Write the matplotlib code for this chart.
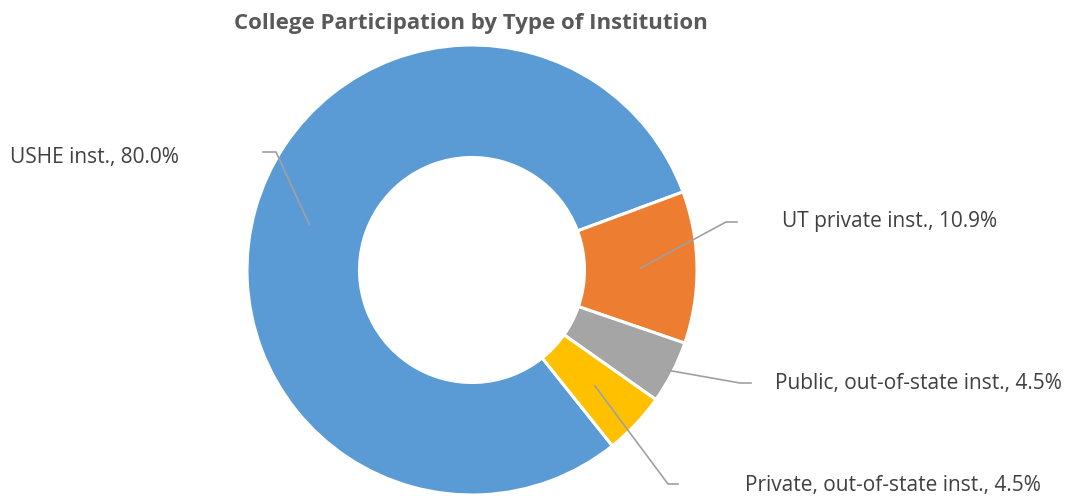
import numpy as np
import matplotlib
matplotlib.use("Agg")
import matplotlib.pyplot as plt

# dados do gráfico
categorias = ["USHE inst.", "UT private inst.", "Public, out-of-state inst.", "Private, out-of-state inst."]
percentuais = [80.0, 10.9, 4.5, 4.5]
cores = ["#5B9BD5", "#ED7D31", "#A5A5A5", "#FFC000"]
titulo = "College Participation by Type of Institution"

# centro e raio do anel em pixels (figura 1086x496)
cx, cy, raio_px = 472, 270, 225
W, H = 1086, 496

def px2d(x, y):
    return (x - cx) / raio_px, (cy - y) / raio_px

fig = plt.figure(figsize=(W / 100, H / 100), dpi=100)
ax = fig.add_axes([0, 0, 1, 1])

wedges, _ = ax.pie(percentuais, colors=cores, startangle=-51.4, counterclock=False,
                   radius=1.0, wedgeprops=dict(width=0.5, edgecolor="white", linewidth=2.2))

# limites depois do pie (ele redefine xlim/ylim)
ax.set_xlim((0 - cx) / raio_px, (W - cx) / raio_px)
ax.set_ylim((cy - H) / raio_px, cy / raio_px)
ax.set_aspect("equal")
ax.axis("off")

# posição dos rótulos (cotovelo, fim da linha, texto) em pixels
layout = [
    dict(r=0.75, cotovelo=(276, 152), fim=(263, 152), texto=(10, 157)),
    dict(r=0.75, cotovelo=(726, 222), fim=(737, 222), texto=(782, 222)),
    dict(r=0.98, cotovelo=(740, 383), fim=(751, 383), texto=(775, 383)),
    dict(r=0.75, cotovelo=(668, 484), fim=(678, 484), texto=(745, 486)),
]

for w, nome, p, lay in zip(wedges, categorias, percentuais, layout):
    ang = np.deg2rad((w.theta1 + w.theta2) / 2)
    x0, y0 = lay["r"] * np.cos(ang), lay["r"] * np.sin(ang)
    x1, y1 = px2d(*lay["cotovelo"])
    x2, y2 = px2d(*lay["fim"])
    ax.plot([x0, x1, x2], [y0, y1, y2], color="#A0A0A0", linewidth=1.2, zorder=3)
    tx, ty = px2d(*lay["texto"])
    ax.text(tx, ty, f"{nome}, {p:.1f}%", ha="left", va="center",
            fontsize=15, color="#404040", family="Open Sans")

fig.text(471 / W, 1 - 24 / H, titulo, ha="center", va="center", fontsize=16,
         fontweight="bold", color="#595959", family="Open Sans")

fig.savefig("out.png", dpi=100)
